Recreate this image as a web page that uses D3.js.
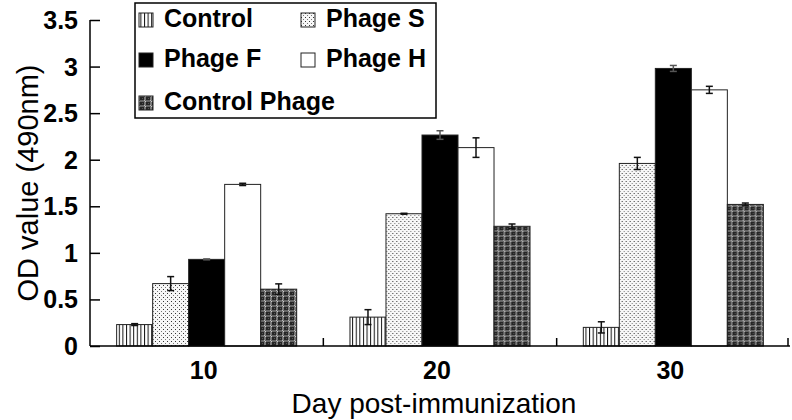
<!DOCTYPE html>
<html>
<head>
<meta charset="utf-8">
<script src="https://cdn.jsdelivr.net/npm/d3@7"></script>
<style>
  html, body { margin: 0; padding: 0; background: #fff; }
  svg { display: block; font-family: Arial, "Liberation Sans", Helvetica, sans-serif; }
</style>
</head>
<body>
<svg id="chart" width="792" height="420"></svg>
<script>
// ---- data ----
const categories = ["10", "20", "30"];
const seriesNames = ["Control", "Phage S", "Phage F", "Phage H", "Control Phage"];
const controlValues = [0.23, 0.31, 0.20];
const controlErrors = [0.01, 0.08, 0.06];
const phageSValues = [0.67, 1.42, 1.96];
const phageSErrors = [0.075, 0.005, 0.065];
const phageFValues = [0.93, 2.265, 2.98];
const phageFErrors = [0.005, 0.046, 0.032];
const phageHValues = [1.735, 2.13, 2.75];
const phageHErrors = [0.012, 0.105, 0.038];
const controlPhageValues = [0.61, 1.285, 1.52];
const controlPhageErrors = [0.057, 0.025, 0.015];
const yTicks = [0, 0.5, 1, 1.5, 2, 2.5, 3, 3.5];
const yTickLabels = ["0", "0.5", "1", "1.5", "2", "2.5", "3", "3.5"];

const seriesValues = [controlValues, phageSValues, phageFValues, phageHValues, controlPhageValues];
const seriesErrors = [controlErrors, phageSErrors, phageFErrors, phageHErrors, controlPhageErrors];

const svg = d3.select("#chart");
const defs = svg.append("defs");

// ---- patterns ----
const pStripe = defs.append("pattern").attr("id", "pat-control")
  .attr("patternUnits", "userSpaceOnUse").attr("width", 3.6).attr("height", 4);
pStripe.append("rect").attr("width", 3.6).attr("height", 4).attr("fill", "#fff");
pStripe.append("rect").attr("x", 0).attr("width", 1).attr("height", 4).attr("fill", "#111");

const pDots = defs.append("pattern").attr("id", "pat-s")
  .attr("patternUnits", "userSpaceOnUse").attr("width", 4).attr("height", 4);
pDots.append("rect").attr("width", 4).attr("height", 4).attr("fill", "#f7f7f7");
pDots.append("rect").attr("x", 1).attr("y", 1).attr("width", 1).attr("height", 1).attr("fill", "#333");
pDots.append("rect").attr("x", 3).attr("y", 3).attr("width", 1).attr("height", 1).attr("fill", "#777");

const pPlaid = defs.append("pattern").attr("id", "pat-cp")
  .attr("patternUnits", "userSpaceOnUse").attr("width", 6).attr("height", 5);
pPlaid.append("rect").attr("width", 6).attr("height", 5).attr("fill", "#262626");
pPlaid.append("rect").attr("x", 0).attr("width", 2).attr("height", 5).attr("fill", "#7a7a7a");
pPlaid.append("rect").attr("y", 0).attr("width", 6).attr("height", 2).attr("fill", "#666");
pPlaid.append("rect").attr("x", 0).attr("y", 0).attr("width", 1).attr("height", 1).attr("fill", "#bbb");
pPlaid.append("rect").attr("x", 1).attr("y", 1).attr("width", 1).attr("height", 1).attr("fill", "#ccc");
pPlaid.append("rect").attr("x", 4).attr("y", 3).attr("width", 1).attr("height", 1).attr("fill", "#555");

const fills = ["url(#pat-control)", "url(#pat-s)", "#000", "#fff", "url(#pat-cp)"];

// ---- scales ----
const plotLeft = 90, plotRight = 790, plotTop = 20, plotBottom = 346;
const x0 = d3.scaleBand().domain(categories).range([plotLeft, plotRight]).paddingInner(0).paddingOuter(0);
const x1 = d3.scaleBand().domain(seriesNames).range([0, x0.bandwidth()]).paddingInner(0).paddingOuter(0.74);
const y = d3.scaleLinear().domain([0, 3.5]).range([plotBottom, plotTop]);

// ---- bars ----
const groups = svg.append("g").selectAll("g").data(categories).join("g")
  .attr("transform", d => `translate(${x0(d)},0)`);

groups.each(function(cat, ci) {
  const g = d3.select(this);
  seriesNames.forEach((s, si) => {
    const v = seriesValues[si][ci];
    g.append("rect")
      .attr("x", x1(s))
      .attr("y", y(v))
      .attr("width", x1.bandwidth())
      .attr("height", y(0) - y(v))
      .attr("fill", fills[si])
      .attr("stroke", "#222")
      .attr("stroke-width", 1);
  });
});

// ---- error bars ----
groups.each(function(cat, ci) {
  const g = d3.select(this);
  seriesNames.forEach((s, si) => {
    const v = seriesValues[si][ci], e = seriesErrors[si][ci];
    const cx = x1(s) + x1.bandwidth() / 2;
    const col = si === 2 ? "#555" : "#111";
    g.append("line").attr("x1", cx).attr("x2", cx).attr("y1", y(v + e)).attr("y2", y(v - e))
      .attr("stroke", col).attr("stroke-width", 1.5);
    [v + e, v - e].forEach(t => {
      g.append("line").attr("x1", cx - 3.5).attr("x2", cx + 3.5).attr("y1", y(t)).attr("y2", y(t))
        .attr("stroke", col).attr("stroke-width", 1.5);
    });
  });
});

// ---- axes ----
const yAxis = d3.axisRight(y).tickValues(yTicks).tickSize(10).tickFormat("");
const yg = svg.append("g").attr("transform", `translate(${plotLeft},0)`).call(yAxis);
yg.select(".domain").attr("stroke", "#000").attr("stroke-width", 1.5).attr("d", `M0,${plotTop}V${plotBottom}`);
yg.selectAll(".tick line").attr("stroke", "#000").attr("stroke-width", 1.5);

svg.append("g").selectAll("text").data(yTicks).join("text")
  .attr("x", 78).attr("y", d => y(d)).attr("dy", "0.36em")
  .attr("text-anchor", "end").attr("font-weight", "bold").attr("font-size", 25)
  .text((d, i) => yTickLabels[i]);

const xAxis = d3.axisBottom(x0).tickSize(0).tickFormat("");
const xg = svg.append("g").attr("transform", `translate(0,${plotBottom})`).call(xAxis);
xg.select(".domain").attr("stroke", "#000").attr("stroke-width", 1.5).attr("d", `M${plotLeft},0H${plotRight}`);
const boundaries = categories.map(c => x0(c) + x0.bandwidth()).map(b => Math.min(b, plotRight - 2));
svg.append("g").selectAll("line").data(boundaries).join("line")
  .attr("x1", d => d).attr("x2", d => d).attr("y1", plotBottom).attr("y2", plotBottom - 8)
  .attr("stroke", "#000").attr("stroke-width", 1.5);

svg.append("g").selectAll("text").data(categories).join("text")
  .attr("x", d => x0(d) + x0.bandwidth() / 2 - 3).attr("y", 379)
  .attr("text-anchor", "middle").attr("font-weight", "bold").attr("font-size", 25)
  .text(d => d);

// axis titles
svg.append("text").attr("x", 434).attr("y", 413).attr("text-anchor", "middle")
  .attr("font-size", 28).text("Day post-immunization");
svg.append("text").attr("transform", `translate(38,${(plotTop + plotBottom) / 2}) rotate(-90)`)
  .attr("text-anchor", "middle").attr("font-size", 29).text("OD value (490nm)");

// ---- legend ----
const legend = svg.append("g");
legend.append("rect").attr("x", 135).attr("y", 3).attr("width", 301).attr("height", 115)
  .attr("fill", "#fff").attr("stroke", "#000").attr("stroke-width", 1.5);
const legendCols = [139, 301];
const legendRows = [27, 67, 110];
const legendPos = [[0, 0], [1, 0], [0, 1], [1, 1], [0, 2]];
seriesNames.forEach((s, si) => {
  const [c, r] = legendPos[si];
  const lx = legendCols[c], ly = legendRows[r];
  legend.append("rect").attr("x", lx).attr("y", ly - 14).attr("width", 14).attr("height", 14)
    .attr("fill", fills[si]).attr("stroke", "#222").attr("stroke-width", 1);
  legend.append("text").attr("x", lx + 25).attr("y", ly)
    .attr("font-weight", "bold").attr("font-size", 25).text(s);
});
</script>
</body>
</html>
